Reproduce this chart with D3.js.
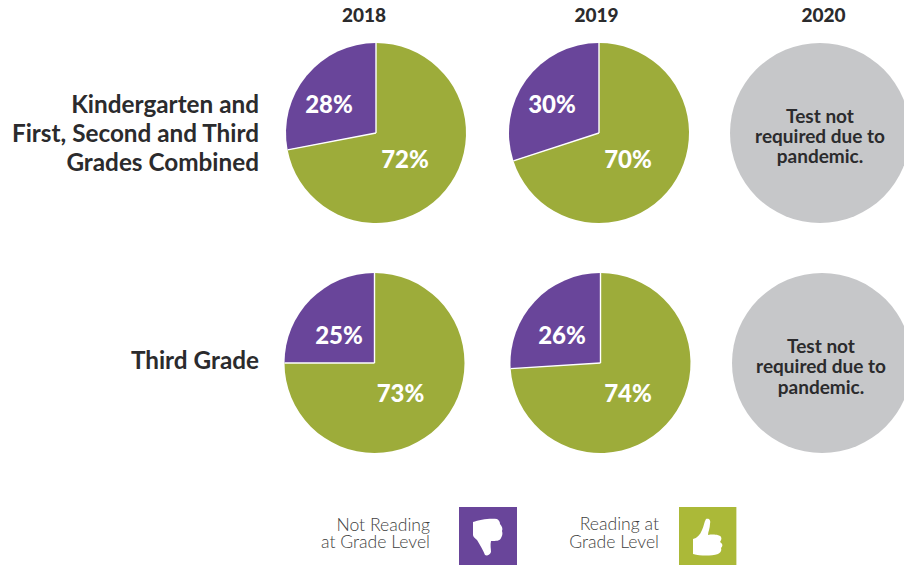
<!DOCTYPE html>
<html><head><meta charset="utf-8">
<script src="https://cdn.jsdelivr.net/npm/d3@7/dist/d3.min.js"></script>
<style>html,body{margin:0;padding:0;background:#fff}svg{display:block}text{font-family:Lato,sans-serif}</style>
</head><body><svg id="c" width="904" height="566"></svg>
<script>
const years = ["2018","2019","2020"];
const rowLabels = [["Kindergarten and","First, Second and Third","Grades Combined"],["Third Grade"]];
const notReading = [[28,30,null],[25,26,null]];
const reading = [[72,70,null],[73,74,null]];
const noteLines = ["Test not","required due to","pandemic."];
const legendNot = ["Not Reading","at Grade Level"];
const legendYes = ["Reading at","Grade Level"];
const colors = {not:"#69459a",yes:"#9dac3a",none:"#c6c7c9",ink:"#2b2b2d",legendYes:"#abb938",legendText:"#3f3f41"};
const centers = [[[376,133],[599,133],[820,133]],[[374.5,363],[600.5,363],[822,363]]];
const headerX = [364,596.5,823.5];
const R = 90;
const svg = d3.select("#c");
const angle = d3.scaleLinear().domain([0,100]).range([0,2*Math.PI]);
const arc = d3.arc().innerRadius(0).outerRadius(R);

svg.selectAll("text.year").data(years).join("text").attr("class","year")
  .attr("x",(d,i)=>headerX[i]).attr("y",21.5).attr("text-anchor","middle")
  .attr("font-size",19).attr("font-weight",900).attr("fill",colors.ink).text(d=>d);

const rowY=[[112.5,142,171],[368.5]];
rowLabels.forEach((lines,r)=>lines.forEach((t,i)=>{
  svg.append("text").attr("x",259).attr("y",rowY[r][i]).attr("text-anchor","end")
   .attr("font-size",24.3).attr("font-weight",700).attr("fill",colors.ink).text(t);
}));

const noteDy=[-10.5,-10];
const notPos=[[[-47,-20.5],[-47,-20.5]],[[-35.5,-19],[-38.5,-19]]];
const yesPos=[[[29,35],[29,35]],[[26,38.5],[27.5,38.5]]];
notReading.forEach((rowVals,r)=>rowVals.forEach((v,c)=>{
  const [cx,cy]=centers[r][c];
  const g=svg.append("g").attr("transform",`translate(${cx},${cy})`);
  if(v===null){
    g.append("circle").attr("r",R).attr("fill",colors.none);
    noteLines.forEach((t,i)=>g.append("text").attr("y",noteDy[r]+20.3*i).attr("x",r?-1:0).attr("text-anchor","middle")
      .attr("font-size",19).attr("font-weight",700).attr("fill",colors.ink).text(t));
    return;
  }
  const start=2*Math.PI-angle(v);
  g.append("path").attr("d",arc({startAngle:0,endAngle:start})).attr("fill",colors.yes);
  g.append("path").attr("d",arc({startAngle:start,endAngle:2*Math.PI})).attr("fill",colors.not);
  [0,start].forEach(a=>g.append("line").attr("x1",0).attr("y1",0)
    .attr("x2",R*Math.sin(a)).attr("y2",-R*Math.cos(a)).attr("stroke","#fff").attr("stroke-width",1.4));
  g.append("text").attr("x",notPos[r][c][0]).attr("y",notPos[r][c][1]).attr("text-anchor","middle")
   .attr("font-size",24).attr("font-weight",900).attr("fill","#fff").text(v+"%");
  g.append("text").attr("x",yesPos[r][c][0]).attr("y",yesPos[r][c][1]).attr("text-anchor","middle")
   .attr("font-size",24).attr("font-weight",900).attr("fill","#fff").text(reading[r][c]+"%");
}));

function legend(lines,x,ys,sq,color,iconD){
  lines.forEach((t,i)=>svg.append("text").attr("x",x).attr("y",ys[i]).attr("text-anchor","end")
    .attr("font-size",17.6).attr("font-weight",300).attr("fill",colors.legendText).text(t));
  svg.append("rect").attr("x",sq).attr("y",507).attr("width",58).attr("height",58).attr("fill",color);
  svg.append("path").attr("transform",`translate(${sq},507)`).attr("d",iconD).attr("fill","#fff");
}
const downIcon="M14 15 C20 13 30 11 38 12 C40 13 41 15 41 17 C43 19 44 22 43 24 C44 27 43 29 42 31 C41 34 37 34 32 34 C31 38 32 42 32 45 C31 48 28 49 26 48 C24 43 21 38 18 33 C16 31 14 30 14 28 Z";
const upIcon="M14 32 C18 31 21 28 23 23 C25 19 25 15 27 12 C30 11 32 13 31 17 C31 21 29 25 29 28 C35 27 41 28 42 30 C43 32 42 33 41 35 C44 37 44 39 42 41 C43 44 41 46 39 47 C32 49 22 49 14 47 Z";
legend(legendNot,430,[531,548],459,colors.not,downIcon);
legend(legendYes,659,[530,548],679,colors.legendYes,upIcon);
svg.append("rect").attr("x",736).attr("y",507).attr("width",1).attr("height",58).attr("fill","#dfe3b4");
</script></body></html>
